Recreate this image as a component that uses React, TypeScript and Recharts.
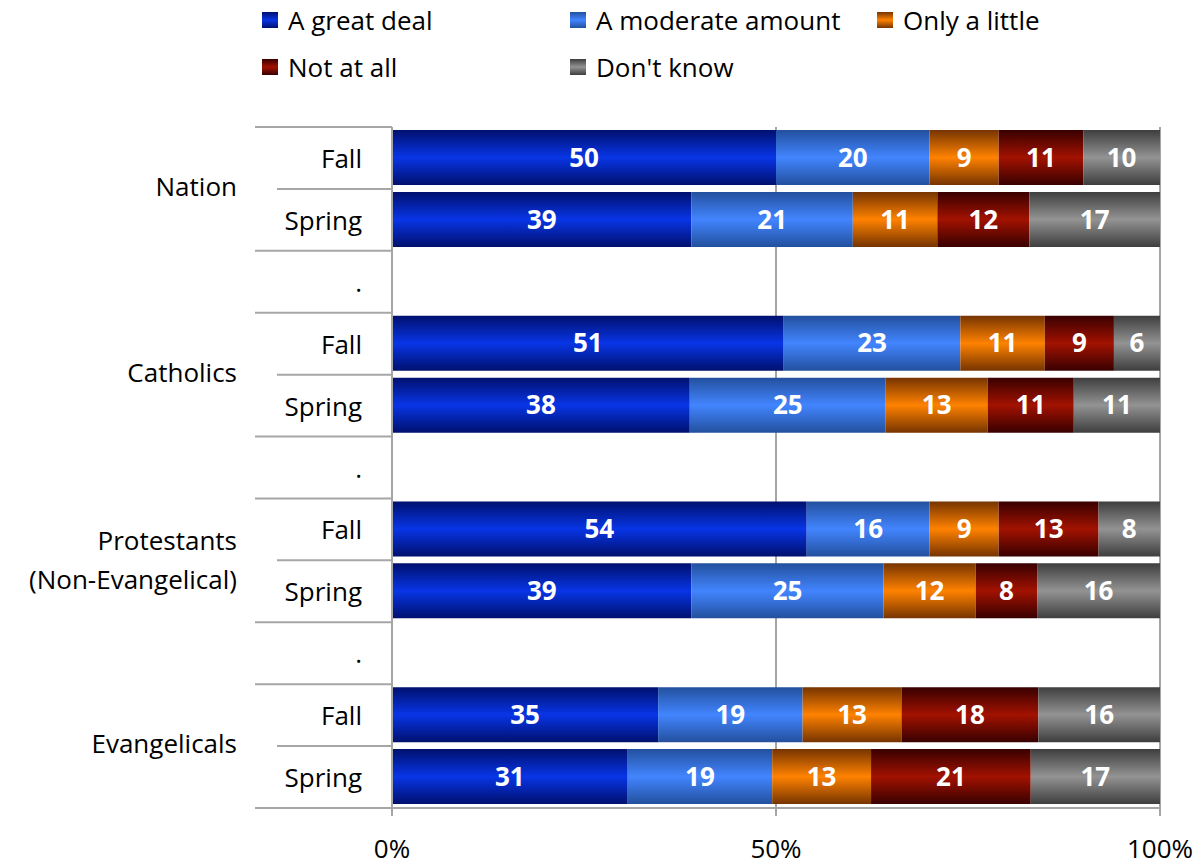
import { Bar, BarChart, CartesianGrid, LabelList, XAxis, YAxis } from "recharts";

const subLabels = ["Fall", "Spring", ".", "Fall", "Spring", ".", "Fall", "Spring", ".", "Fall", "Spring"];
const groupLabels = ["Nation", "Nation", "", "Catholics", "Catholics", "", "Protestants\n(Non-Evangelical)", "Protestants\n(Non-Evangelical)", "", "Evangelicals", "Evangelicals"];

const greatDeal = [50, 39, null, 51, 38, null, 54, 39, null, 35, 31];
const moderate = [20, 21, null, 23, 25, null, 16, 25, null, 19, 19];
const onlyLittle = [9, 11, null, 11, 13, null, 9, 12, null, 13, 13];
const notAtAll = [11, 12, null, 9, 11, null, 13, 8, null, 18, 21];
const dontKnow = [10, 17, null, 6, 11, null, 8, 16, null, 16, 17];

const xTicks = [0, 0.5, 1];

const SERIES = [
  { key: "greatDeal", name: "A great deal", values: greatDeal, edge: "#00106e", mid: "#0835e6" },
  { key: "moderate", name: "A moderate amount", values: moderate, edge: "#23509e", mid: "#4285ff" },
  { key: "onlyLittle", name: "Only a little", values: onlyLittle, edge: "#763400", mid: "#ff8200" },
  { key: "notAtAll", name: "Not at all", values: notAtAll, edge: "#380000", mid: "#a21200" },
  { key: "dontKnow", name: "Don't know", values: dontKnow, edge: "#3e3e3e", mid: "#939393" }
];

const WIDTH = 1204;
const HEIGHT = 865;
const PLOT_LEFT = 392;
const PLOT_TOP = 127;
const X_AXIS_H = 57;
const PLOT_BOTTOM = HEIGHT - X_AXIS_H;
const BAND = (PLOT_BOTTOM - PLOT_TOP) / subLabels.length;
const FONT = "'Open Sans', sans-serif";
const FS = 26;
const GRID = "#a6a6a6";

const data = subLabels.map((sub, i) => {
  const row: Record<string, any> = { id: i, sub, group: groupLabels[i] };
  for (const s of SERIES) row[s.key] = s.values[i];
  return row;
});

function RowTick(props: any) {
  const { y, payload } = props;
  const i = Number(payload.value);
  const top = y - BAND / 2;
  const sub = subLabels[i];
  const longTop = sub !== "Spring";
  const group = groupLabels[i];
  const lines = sub === "Spring" ? group.split("\n") : [];
  const gy = lines.length > 1 ? top - 1 : top - 3;
  return (
    <g>
      <line x1={longTop ? 255 : 277} x2={PLOT_LEFT} y1={top} y2={top} stroke={GRID} strokeWidth={2} />
      {i === subLabels.length - 1 && (
        <line x1={255} x2={PLOT_LEFT} y1={top + BAND} y2={top + BAND} stroke={GRID} strokeWidth={2} />
      )}
      <text x={362} y={y} textAnchor="end" dominantBaseline="central" fontSize={FS} fontFamily={FONT} fill="#000">
        {sub}
      </text>
      {lines.map((t, k) => (
        <text
          key={k}
          x={237}
          y={gy + (k - (lines.length - 1) / 2) * 39}
          textAnchor="end"
          dominantBaseline="central"
          fontSize={FS}
          fontFamily={FONT}
          fill="#000"
        >
          {t}
        </text>
      ))}
    </g>
  );
}

function LegendBox() {
  const cols = [262, 570, 877];
  return (
    <div style={{ position: "absolute", left: 0, top: 0, width: WIDTH, height: 100, fontFamily: FONT, fontSize: FS }}>
      {SERIES.map((s, i) => (
        <div
          key={s.key}
          style={{
            position: "absolute",
            left: cols[i % 3],
            top: i < 3 ? 3 : 50,
            display: "flex",
            alignItems: "center",
            height: 34,
            whiteSpace: "nowrap"
          }}
        >
          <span
            style={{
              width: 16,
              height: 16,
              marginRight: 10,
              background: `linear-gradient(${s.edge}, ${s.mid} 50%, ${s.edge})`
            }}
          />
          <span>{s.name}</span>
        </div>
      ))}
    </div>
  );
}

export default function App() {
  return (
    <div style={{ position: "absolute", left: 0, top: 0, width: WIDTH, height: HEIGHT, background: "#fff" }}>
      <BarChart
        width={WIDTH}
        height={HEIGHT}
        data={data}
        layout="vertical"
        stackOffset="expand"
        barSize={55}
        margin={{ top: PLOT_TOP, right: WIDTH - 1160, bottom: 0, left: 0 }}
      >
        <defs>
          {SERIES.map((s) => (
            <linearGradient key={s.key} id={`grad-${s.key}`} x1="0" y1="0" x2="0" y2="1">
              <stop offset="0%" stopColor={s.edge} />
              <stop offset="50%" stopColor={s.mid} />
              <stop offset="100%" stopColor={s.edge} />
            </linearGradient>
          ))}
        </defs>
        <CartesianGrid horizontal={false} stroke={GRID} strokeWidth={2} />
        <XAxis
          type="number"
          domain={[0, 1]}
          ticks={xTicks}
          tickFormatter={(v: number) => `${Math.round(v * 100)}%`}
          height={X_AXIS_H}
          tick={{ fontSize: FS, fontFamily: FONT, fill: "#000" }}
          stroke={GRID}
          strokeWidth={2}
          tickSize={8}
          tickMargin={24}
        />
        <YAxis
          type="category"
          dataKey="id"
          width={PLOT_LEFT}
          tick={RowTick}
          tickLine={false}
          stroke={GRID}
          strokeWidth={2}
          interval={0}
        />
        {SERIES.map((s) => (
          <Bar key={s.key} dataKey={s.key} name={s.name} stackId="a" fill={`url(#grad-${s.key})`} isAnimationActive={false}>
            <LabelList
              dataKey={s.key}
              position="center"
              fill="#fff"
              fontSize={FS}
              fontWeight="bold"
              fontFamily={FONT}
              formatter={(v: any) => (v === null || v === undefined ? "" : v)}
            />
          </Bar>
        ))}
      </BarChart>
      <LegendBox />
    </div>
  );
}
